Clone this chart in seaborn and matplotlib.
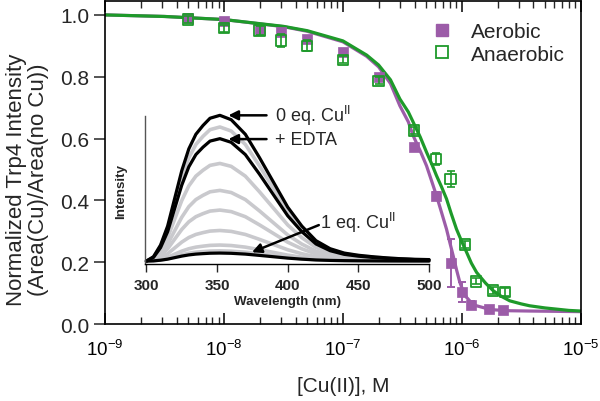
import numpy as np
import pandas as pd
import seaborn as sns
import matplotlib.pyplot as plt
from matplotlib.lines import Line2D
from matplotlib.ticker import FixedLocator, NullFormatter

# ---- titration data (log10 of [Cu(II)] in M, normalized area) ----
aer_logx = [-8.30, -8.00, -7.70, -7.52, -7.30, -7.00, -6.70, -6.40, -6.22, -6.095, -6.00, -5.924, -5.77, -5.653]
aer_y = [0.990, 0.980, 0.952, 0.944, 0.922, 0.879, 0.798, 0.572, 0.415, 0.197, 0.103, 0.063, 0.049, 0.045]
aer_err = [0.008, 0.008, 0.008, 0.008, 0.008, 0.008, 0.008, 0.008, 0.012, 0.078, 0.033, 0.010, 0.008, 0.008]

ana_logx = [-8.30, -8.00, -7.70, -7.52, -7.30, -7.00, -6.70, -6.40, -6.22, -6.095, -5.975, -5.882, -5.737, -5.636]
ana_y = [0.985, 0.957, 0.950, 0.917, 0.900, 0.855, 0.787, 0.626, 0.534, 0.469, 0.257, 0.138, 0.108, 0.103]
ana_err = [0.012, 0.012, 0.015, 0.020, 0.018, 0.012, 0.012, 0.012, 0.020, 0.027, 0.012, 0.010, 0.012, 0.012]

# ---- fit curves ----
aer_fit_logx = [-9.0, -8.5, -8.0, -7.5, -7.3, -7.0, -6.8, -6.7, -6.6, -6.521, -6.45, -6.409, -6.35,
                -6.297, -6.25, -6.213, -6.17, -6.129, -6.10, -6.073, -6.045, -6.017, -5.99, -5.96,
                -5.92, -5.876, -5.80, -5.737, -5.60, -5.43, -5.2, -5.0]
aer_fit_y = [1.0, 0.995, 0.985, 0.962, 0.947, 0.913, 0.866, 0.832, 0.778, 0.706, 0.654, 0.609, 0.560,
             0.512, 0.458, 0.415, 0.360, 0.307, 0.262, 0.221, 0.176, 0.135, 0.107, 0.086,
             0.069, 0.059, 0.051, 0.046, 0.043, 0.042, 0.041, 0.040]

ana_fit_logx = [-9.0, -8.5, -8.0, -7.5, -7.3, -7.0, -6.8, -6.7, -6.6, -6.521, -6.45, -6.409, -6.35,
                -6.297, -6.25, -6.213, -6.17, -6.129, -6.09, -6.045, -6.00, -5.96, -5.92, -5.876,
                -5.80, -5.737, -5.67, -5.597, -5.50, -5.43, -5.3, -5.2, -5.1, -5.0]
ana_fit_y = [1.0, 0.995, 0.985, 0.963, 0.949, 0.916, 0.870, 0.838, 0.790, 0.728, 0.686, 0.653, 0.605,
             0.556, 0.515, 0.480, 0.443, 0.405, 0.358, 0.307, 0.266, 0.232, 0.197, 0.167,
             0.132, 0.108, 0.090, 0.075, 0.065, 0.059, 0.052, 0.048, 0.044, 0.042]

x_ticks = [1e-9, 1e-8, 1e-7, 1e-6, 1e-5]
x_ticklabels = [r'$10^{-9}$', r'$10^{-8}$', r'$10^{-7}$', r'$10^{-6}$', r'$10^{-5}$']

# ---- inset emission spectra ----
wavelength = [300, 305, 310, 315, 320, 325, 330, 335, 340, 345, 352, 360, 370, 380, 390,
              400, 410, 420, 430, 440, 450, 460, 470, 480, 490, 500]
shape = [0.0, 0.03, 0.11, 0.24, 0.43, 0.62, 0.77, 0.87, 0.93, 0.98, 1.0, 0.97, 0.87, 0.71, 0.54,
         0.37, 0.24, 0.14, 0.085, 0.055, 0.04, 0.03, 0.022, 0.016, 0.012, 0.01]
grey_peaks = [0.92, 0.67, 0.485, 0.35, 0.21, 0.11, 0.07]
peak_0eq = 1.0
peak_edta = 0.84
peak_1eq = 0.055

purple = '#9C5CA8'
green = '#1E9A2A'

sns.set_theme(style='ticks')
plt.rcParams['font.family'] = ['Liberation Sans', 'DejaVu Sans']
plt.rcParams['mathtext.fontset'] = 'custom'
plt.rcParams['mathtext.rm'] = 'Liberation Sans'
plt.rcParams['mathtext.it'] = 'Liberation Sans:italic'
plt.rcParams['mathtext.bf'] = 'Liberation Sans:bold'

fig = plt.figure(figsize=(6, 4.02), dpi=100)
ax = fig.add_axes([0.175, 0.1915, 0.793, 0.8035])

aer_x = 10 ** np.array(aer_logx)
ana_x = 10 ** np.array(ana_logx)

sns.lineplot(x=10 ** np.array(aer_fit_logx), y=aer_fit_y, ax=ax, color=purple, lw=2.3,
             sort=False, estimator=None, zorder=2)
sns.lineplot(x=10 ** np.array(ana_fit_logx), y=ana_fit_y, ax=ax, color=green, lw=2.3,
             sort=False, estimator=None, zorder=2)

ax.errorbar(aer_x, aer_y, yerr=aer_err, fmt='none', ecolor=purple, elinewidth=1.4,
            capsize=3, capthick=1.4, zorder=3)
sns.scatterplot(x=aer_x, y=aer_y, ax=ax, marker='s', s=55, color=purple, edgecolor=purple,
                linewidth=0.5, zorder=4)
ax.errorbar(ana_x, ana_y, yerr=ana_err, fmt='none', ecolor=green, elinewidth=1.2,
            capsize=3, capthick=1.2, zorder=5)
sns.scatterplot(x=ana_x, y=ana_y, ax=ax, marker='s', s=55, facecolor='none', edgecolor=green,
                linewidth=1.3, zorder=6)

ax.set_xscale('log')
ax.set_xlim(1e-9, 1e-5)
ax.set_ylim(0, 1.045)
ax.set_xticks(x_ticks)
ax.set_xticklabels(x_ticklabels)
minor = [m * 10.0 ** e for e in range(-9, -5) for m in range(2, 10)]
ax.xaxis.set_minor_locator(FixedLocator(minor))
ax.xaxis.set_minor_formatter(NullFormatter())
ax.set_yticks([0, 0.2, 0.4, 0.6, 0.8, 1.0])
ax.set_yticklabels(['0.0', '0.2', '0.4', '0.6', '0.8', '1.0'])

ax.tick_params(axis='x', which='major', direction='in', top=True, bottom=True, length=8, width=1.1,
               labelsize=13.5, pad=11, colors='black')
ax.tick_params(axis='x', which='minor', direction='in', top=True, bottom=True, length=5, width=1.0)
ax.tick_params(axis='y', which='major', direction='out', left=True, right=False, length=8, width=1.1,
               labelsize=15, pad=3.5)
for sp in ax.spines.values():
    sp.set_visible(True)
    sp.set_linewidth(1.2)
    sp.set_color('black')

ax.set_xlabel('[Cu(II)], M', fontsize=15)
ax.set_ylabel('Normalized Trp4 Intensity\n(Area(Cu)/Area(no Cu))', fontsize=16, linespacing=1.05)
ax.xaxis.set_label_coords(0.5, -0.16)
ax.yaxis.set_label_coords(-0.118, 0.45)

handles = [Line2D([], [], ls='none', marker='s', ms=9, color=purple, mec=purple),
           Line2D([], [], ls='none', marker='s', ms=9, mfc='none', mec=green, mew=1.3)]
ax.legend(handles, ['Aerobic', 'Anaerobic'], loc='center left', bbox_to_anchor=(0.668, 0.870),
          frameon=False, fontsize=15, handlelength=1.0, handletextpad=0.9, labelspacing=0.15,
          borderaxespad=0)

# ---- inset ----
ins = fig.add_axes([0.2417, 0.3408, 0.4733, 0.368])
ins.set_facecolor('none')
shape_arr = np.array(shape)
for h in grey_peaks:
    sns.lineplot(x=wavelength, y=h * shape_arr, ax=ins, color='#C9C9CD', lw=2.6,
                 estimator=None, sort=False, clip_on=False)
for h in [peak_0eq, peak_edta, peak_1eq]:
    sns.lineplot(x=wavelength, y=h * shape_arr, ax=ins, color='black', lw=2.3,
                 estimator=None, sort=False, clip_on=False)

ins.set_xlim(299, 500)
ins.set_ylim(-0.02, 0.995)
ins.set_xticks([300, 350, 400, 450, 500])
ins.set_yticks([])
ins.spines['top'].set_visible(False)
ins.spines['right'].set_visible(False)
ins.spines['left'].set_color('#555555')
ins.spines['left'].set_linewidth(1.0)
ins.spines['bottom'].set_color('black')
ins.spines['bottom'].set_linewidth(1.0)
ins.tick_params(axis='x', direction='out', length=6, width=1.0, labelsize=11, pad=4)
for lab in ins.get_xticklabels():
    lab.set_fontweight('bold')
ins.set_xlabel('Wavelength (nm)', fontsize=9.6, fontweight='bold')
ins.set_ylabel('Intensity', fontsize=9.6, fontweight='bold')
ins.xaxis.set_label_coords(0.5, -0.21)
ins.yaxis.set_label_coords(-0.064, 0.5)

arrow = dict(arrowstyle='-|>', color='black', lw=1.8, mutation_scale=14, shrinkA=0, shrinkB=0)
ins.annotate('', xy=(358, 1.0), xytext=(385, 1.0), arrowprops=arrow, annotation_clip=False)
ins.text(391, 1.0, r'0 eq. Cu$^{\mathrm{II}}$', fontsize=13, va='center', ha='left')
ins.annotate('', xy=(358, 0.837), xytext=(385, 0.837), arrowprops=arrow, annotation_clip=False)
ins.text(391, 0.837, '+ EDTA', fontsize=13, va='center', ha='left')
ins.annotate('', xy=(374.7, 0.061), xytext=(422, 0.247), arrowprops=arrow, annotation_clip=False)
ins.text(423, 0.27, r'1 eq. Cu$^{\mathrm{II}}$', fontsize=13, va='center', ha='left')

fig.savefig('out.png', dpi=100)
